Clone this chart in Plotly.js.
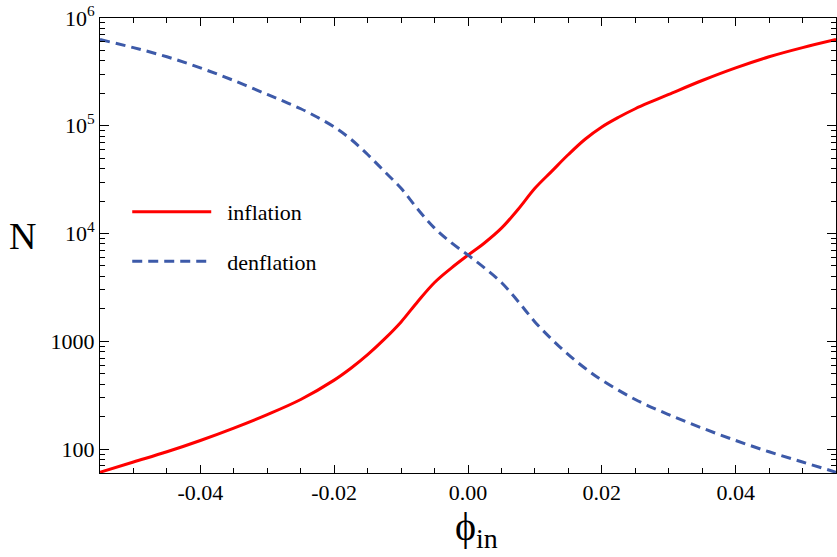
<!DOCTYPE html>
<html>
<head>
<meta charset="utf-8">
<script src="https://cdn.plot.ly/plotly-3.0.1.min.js"></script>
<style>html,body{margin:0;padding:0;background:#fff;}#chart{width:837px;height:557px;}</style>
</head>
<body>
<div id="chart"></div>
<script>
// phi_in values for the inflation curve
const phiInf = [-0.055, -0.05, -0.045, -0.04, -0.035, -0.03, -0.025, -0.02, -0.0175, -0.015, -0.0125, -0.01, -0.0075, -0.005, -0.0025, 0,
                0.0025, 0.005, 0.0075, 0.01, 0.0125, 0.015, 0.0175, 0.02, 0.0225, 0.025, 0.0275, 0.03, 0.035, 0.04, 0.045, 0.05, 0.055];
// N for inflation
const inflationN = [61, 75.9, 94.4, 120.2, 156.7, 208.9, 288.4, 436.5, 562.3, 751.6, 1047, 1514, 2344, 3516, 4786, 6310,
                    8222, 11220, 16790, 26300, 37760, 54080, 74990, 97500, 119900, 143900, 168300, 195400, 263000, 344400, 436500, 530900, 631000];
// phi_in values for the denflation curve
const phiDen = [-0.055, -0.05, -0.045, -0.04, -0.035, -0.03, -0.0275, -0.025, -0.0225, -0.02, -0.0175, -0.015, -0.0125, -0.01, -0.0075, -0.005, -0.0025,
                0, 0.0025, 0.005, 0.0075, 0.01, 0.0125, 0.015, 0.0175, 0.02, 0.025, 0.03, 0.035, 0.04, 0.045, 0.05, 0.055];
// N for denflation
const denflationN = [631000, 530900, 436500, 344400, 263000, 195400, 168300, 143900, 119900, 97500, 74990, 54080, 37760, 26300, 16790, 11220, 8222,
                     6310, 4786, 3516, 2344, 1514, 1047, 751.6, 562.3, 436.5, 288.4, 208.9, 156.7, 120.2, 94.4, 75.9, 61];
const seriesNames = ['inflation', 'denflation'];
const xTickVals = [-0.04, -0.02, 0, 0.02, 0.04];
const xTickText = ['-0.04', '-0.02', '0.00', '0.02', '0.04'];
const yTickVals = [100, 1000, 1e4, 1e5, 1e6];
const yTickText = ['100', '1000', '10<sup>4</sup>', '10<sup>5</sup>', '10<sup>6</sup>'];
const yMinorVals = [70, 80, 90, 200, 300, 400, 500, 600, 700, 800, 900, 2000, 3000, 4000, 5000, 6000, 7000, 8000, 9000,
                    2e4, 3e4, 4e4, 5e4, 6e4, 7e4, 8e4, 9e4, 2e5, 3e5, 4e5, 5e5, 6e5, 7e5, 8e5, 9e5];

const serif = 'Liberation Serif';
const gap = '\u00a0\u00a0';

const traces = [
  {x: phiInf, y: inflationN, name: gap + seriesNames[0], type: 'scatter', mode: 'lines', legendgroup: 'a',
   line: {color: '#ff0000', width: 3, shape: 'spline', smoothing: 1}},
  {x: phiDen, y: denflationN, name: gap + seriesNames[1], type: 'scatter', mode: 'lines', legendgroup: 'b',
   line: {color: '#3d5aa9', width: 3, dash: '10px,6px', shape: 'spline', smoothing: 1}}
];

const layout = {
  width: 837, height: 557,
  margin: {l: 100, r: 1, t: 18, b: 84},
  paper_bgcolor: '#fff', plot_bgcolor: '#fff',
  font: {family: serif, size: 22, color: '#000'},
  showlegend: true,
  legend: {x: 0.037, y: 0.62, xanchor: 'left', yanchor: 'top', bgcolor: 'rgba(0,0,0,0)',
           font: {family: serif, size: 22, color: '#000'}, itemwidth: 79,
           traceorder: 'grouped', tracegroupgap: 18},
  xaxis: {
    range: [-0.055, 0.055], showgrid: false, zeroline: false,
    showline: true, linecolor: '#000', linewidth: 1, mirror: 'allticks',
    ticks: 'inside', ticklen: 8, tickcolor: '#000', tickwidth: 1,
    tickmode: 'array', tickvals: xTickVals, ticktext: xTickText,
    tickfont: {family: serif, size: 22, color: '#000'},
    minor: {tickmode: 'linear', tick0: 0, dtick: 0.005, ticks: 'inside', ticklen: 5, tickcolor: '#000', tickwidth: 1, showgrid: false}
  },
  yaxis: {
    type: 'log', range: [Math.log10(60), 6], showgrid: false, zeroline: false,
    showline: true, linecolor: '#000', linewidth: 1, mirror: 'allticks',
    ticks: 'inside', ticklen: 9, tickcolor: '#000', tickwidth: 1,
    tickmode: 'array', tickvals: yTickVals, ticktext: yTickText,
    tickfont: {family: serif, size: 22, color: '#000'},
    minor: {tickmode: 'array', tickvals: yMinorVals, ticks: 'inside', ticklen: 5, tickcolor: '#000', tickwidth: 1, showgrid: false}
  },
  annotations: [
    {text: 'N', xref: 'paper', yref: 'paper', x: -0.105, y: 0.52, xanchor: 'center', yanchor: 'middle',
     showarrow: false, font: {family: serif, size: 38, color: '#000'}},
    {text: 'ϕ<sub>in</sub>', xref: 'paper', yref: 'paper', x: 0.512, y: -0.064, xanchor: 'center', yanchor: 'top',
     showarrow: false, font: {family: serif, size: 40, color: '#000'}}
  ]
};

Plotly.newPlot('chart', traces, layout, {displayModeBar: false, staticPlot: true});
</script>
</body>
</html>
